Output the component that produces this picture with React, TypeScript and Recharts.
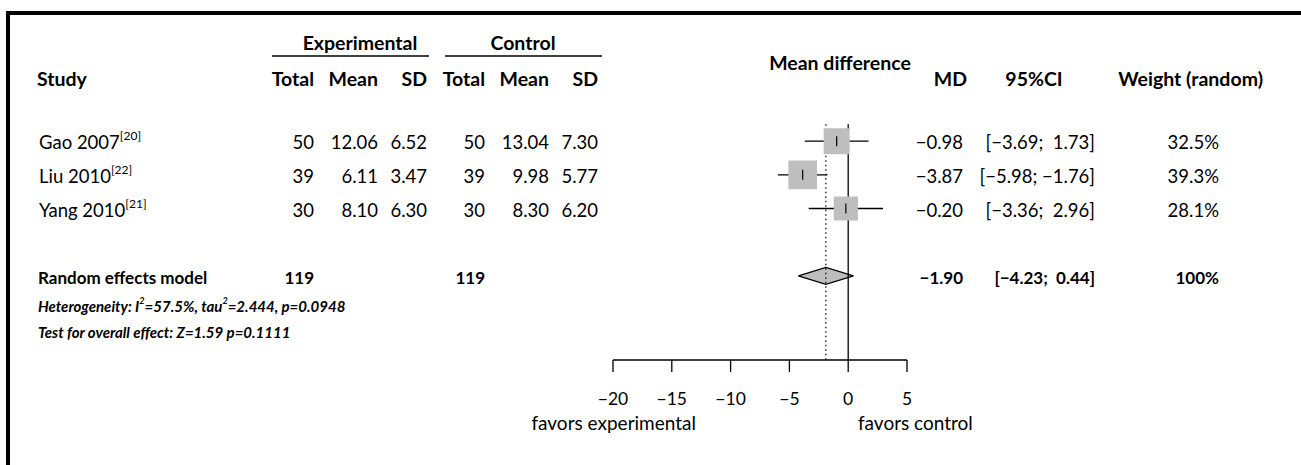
import {
  ComposedChart,
  Scatter,
  Area,
  XAxis,
  YAxis,
  ZAxis,
  ReferenceLine,
  ErrorBar,
} from 'recharts';

const FONT = 'Lato, "Open Sans", sans-serif';

// study rows
const studyNames = ['Gao 2007', 'Liu 2010', 'Yang 2010'];
const studyRefs = ['[20]', '[22]', '[21]'];
const studyRows = [1, 2, 3];
const expTotal = [50, 39, 30];
const expMean = ['12.06', '6.11', '8.10'];
const expSD = ['6.52', '3.47', '6.30'];
const ctlTotal = [50, 39, 30];
const ctlMean = ['13.04', '9.98', '8.30'];
const ctlSD = ['7.30', '5.77', '6.20'];
const md = [-0.98, -3.87, -0.2];
const ciLow = [-3.69, -5.98, -3.36];
const ciHigh = [1.73, -1.76, 2.96];
const weights = [32.5, 39.3, 28.1];

// pooled (random effects)
const pooledLabel = 'Random effects model';
const pooledRow = 5;
const pooledTotals = [119, 119];
const pooledMD = -1.9;
const pooledLow = -4.23;
const pooledHigh = 0.44;
const pooledWeight = '100%';
const heterogeneity = ['Heterogeneity: I', '2', '=57.5%, tau', '2', '=2.444, p=0.0948'];
const overallTest = 'Test for overall effect: Z=1.59 p=0.1111';

const xTicks = [-20, -15, -10, -5, 0, 5];
const leftLabel = 'favors experimental';
const rightLabel = 'favors control';

const DIAMOND_HALF = 0.25;

const studyPts = md.map((m, i) => ({
  x: m,
  y: studyRows[i],
  w: weights[i],
  err: [m - ciLow[i], ciHigh[i] - m],
}));

const diamondPts = [
  { x: pooledLow, band: [pooledRow, pooledRow] },
  { x: pooledMD, band: [pooledRow - DIAMOND_HALF, pooledRow + DIAMOND_HALF] },
  { x: pooledHigh, band: [pooledRow, pooledRow] },
];

const minus = (s: string) => s.replace(/-/g, '\u2212');
const fmt = (v: number) => minus(v.toFixed(2));
const ciText = (lo: number, hi: number) =>
  `[${fmt(lo)};${hi < 0 ? ' ' : '  '}${fmt(hi)}]`;

const AxisTick = (props: any) => {
  const { x, y, payload } = props;
  return (
    <text x={x} y={y + 24} textAnchor="middle" dominantBaseline="central"
      fontFamily={FONT} fontSize={17.5} fill="#000">
      {minus(String(payload.value))}
    </text>
  );
};

const EstTick = (p: any) => (
  <line x1={p.cx} x2={p.cx} y1={p.cy - 5} y2={p.cy + 5} stroke="#000" strokeWidth={1.2} />
);

// table column right edges
const colRight = [314, 378, 427, 485, 549, 598];
const rowY = [142, 176, 210];
const pooledY = 277;
const BODY = 18.5;
const HEAD = 19.5;
const POOL = 17;

export default function App() {
  const T = (p: any) => (
    <text fontFamily={FONT} fontSize={BODY} fill="#000" dominantBaseline="central"
      style={{ whiteSpace: 'pre' }} {...p} />
  );
  return (
    <div style={{ position: 'absolute', left: 0, top: 0, width: 1301, height: 465, background: '#fff' }}>
      <ComposedChart width={1301} height={465}
        margin={{ top: 107.5, right: 394, left: 613, bottom: 45 }}>
        <XAxis type="number" dataKey="x" domain={[-20, 5]} ticks={xTicks}
          allowDataOverflow tickSize={12} height={60}
          axisLine={{ stroke: '#000', strokeWidth: 1.3 }}
          tickLine={{ stroke: '#000', strokeWidth: 1.3 }}
          tick={<AxisTick />} />
        <YAxis type="number" dataKey="y" domain={[0, 7.5]} reversed hide allowDataOverflow />
        <ZAxis type="number" dataKey="w" domain={[0, 100]} range={[0, 2080]} />
        <ReferenceLine segment={[{ x: pooledMD, y: 0.5 }, { x: pooledMD, y: 7.5 }]}
          stroke="#000" strokeWidth={1.2} strokeDasharray="1.5 3" ifOverflow="visible" />
        <ReferenceLine segment={[{ x: 0, y: 0.5 }, { x: 0, y: 7.5 }]}
          stroke="#000" strokeWidth={1.3} ifOverflow="visible" />
        <Scatter data={studyPts} shape="square" fill="#BEBEBE" isAnimationActive={false} />
        <Scatter data={studyPts} shape={<EstTick />} isAnimationActive={false}>
          <ErrorBar dataKey="err" direction="x" width={0} stroke="#000" strokeWidth={1.4}
            isAnimationActive={false} />
        </Scatter>
        <Area data={diamondPts} dataKey="band" type="linear" fill="#BEBEBE" fillOpacity={1}
          stroke="#000" strokeWidth={1.3} isAnimationActive={false} dot={false} activeDot={false} />
      </ComposedChart>

      <svg width={1301} height={465} style={{ position: 'absolute', left: 0, top: 0, pointerEvents: 'none' }}>
        <line x1={6} x2={1301} y1={13} y2={13} stroke="#000" strokeWidth={4} />
        <line x1={8} x2={8} y1={11} y2={465} stroke="#000" strokeWidth={4} />

        {/* group headers */}
        <T x={360} y={42} textAnchor="middle" fontWeight="bold" fontSize={HEAD}>Experimental</T>
        <T x={523} y={42} textAnchor="middle" fontWeight="bold" fontSize={HEAD}>Control</T>
        <line x1={272} x2={429} y1={56} y2={56} stroke="#000" strokeWidth={1.5} />
        <line x1={445} x2={602} y1={56} y2={56} stroke="#000" strokeWidth={1.5} />
        <T x={840} y={62} textAnchor="middle" fontWeight="bold" fontSize={HEAD}>Mean difference</T>

        {/* column headers */}
        <T x={37} y={78} fontWeight="bold" fontSize={HEAD}>Study</T>
        {['Total', 'Mean', 'SD', 'Total', 'Mean', 'SD'].map((h, i) => (
          <T key={i} x={colRight[i]} y={78} textAnchor="end" fontWeight="bold" fontSize={HEAD}>{h}</T>
        ))}
        <T x={967} y={78} textAnchor="end" fontWeight="bold" fontSize={HEAD}>MD</T>
        <T x={1034} y={78} textAnchor="middle" fontWeight="bold" fontSize={HEAD}>95%CI</T>
        <T x={1263} y={78} textAnchor="end" fontWeight="bold" fontSize={HEAD}>Weight (random)</T>

        {/* study rows */}
        {studyNames.map((n, i) => {
          const vals = [expTotal[i], expMean[i], expSD[i], ctlTotal[i], ctlMean[i], ctlSD[i]];
          return (
            <g key={n}>
              <T x={39} y={rowY[i]}>
                {n}
                <tspan fontSize={12} dy={-7}>{studyRefs[i]}</tspan>
              </T>
              {vals.map((v, j) => (
                <T key={j} x={colRight[j]} y={rowY[i]} textAnchor="end">{String(v)}</T>
              ))}
              <T x={963} y={rowY[i]} textAnchor="end">{fmt(md[i])}</T>
              <T x={1095} y={rowY[i]} textAnchor="end">{ciText(ciLow[i], ciHigh[i])}</T>
              <T x={1219} y={rowY[i]} textAnchor="end">{weights[i].toFixed(1) + '%'}</T>
            </g>
          );
        })}

        {/* pooled row */}
        <T x={38} y={pooledY} fontWeight="bold" fontSize={POOL}>{pooledLabel}</T>
        <T x={colRight[0]} y={pooledY} textAnchor="end" fontWeight="bold" fontSize={POOL}>{String(pooledTotals[0])}</T>
        <T x={colRight[3]} y={pooledY} textAnchor="end" fontWeight="bold" fontSize={POOL}>{String(pooledTotals[1])}</T>
        <T x={963} y={pooledY} textAnchor="end" fontWeight="bold" fontSize={POOL}>{fmt(pooledMD)}</T>
        <T x={1095} y={pooledY} textAnchor="end" fontWeight="bold" fontSize={POOL}>{ciText(pooledLow, pooledHigh)}</T>
        <T x={1219} y={pooledY} textAnchor="end" fontWeight="bold" fontSize={POOL}>{pooledWeight}</T>

        <T x={38} y={306} fontSize={15} fontWeight="bold" fontStyle="italic">
          {heterogeneity[0]}
          <tspan fontSize={9} dy={-6}>{heterogeneity[1]}</tspan>
          <tspan dy={6}>{heterogeneity[2]}</tspan>
          <tspan fontSize={9} dy={-6}>{heterogeneity[3]}</tspan>
          <tspan dy={6}>{heterogeneity[4]}</tspan>
        </T>
        <T x={38} y={332} fontSize={15} fontWeight="bold" fontStyle="italic">{overallTest}</T>

        <T x={696} y={422} textAnchor="end" fontSize={19}>{leftLabel}</T>
        <T x={858} y={422} fontSize={19}>{rightLabel}</T>
      </svg>
    </div>
  );
}
